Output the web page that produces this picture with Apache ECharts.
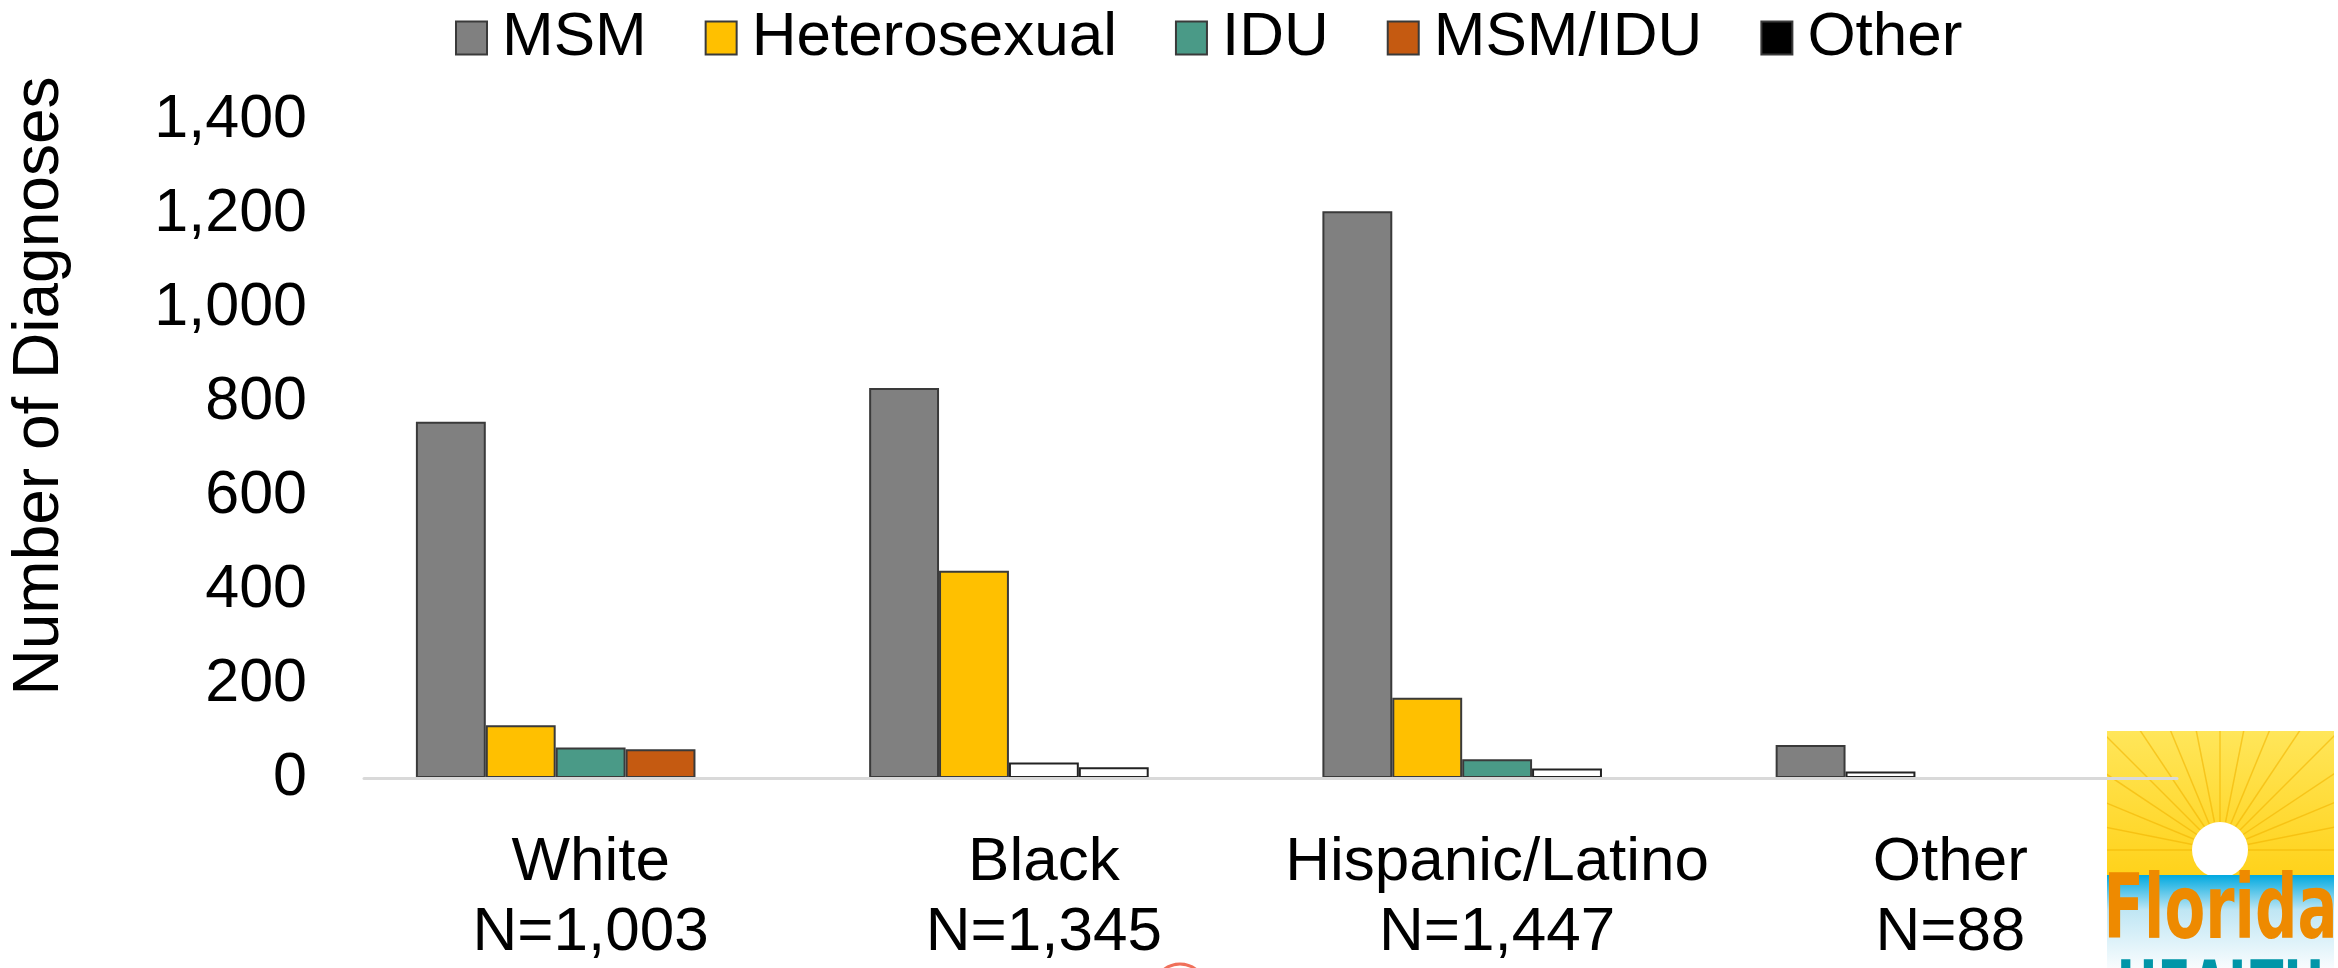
<!DOCTYPE html>
<html>
<head>
<meta charset="utf-8">
<script src="https://cdn.jsdelivr.net/npm/echarts@6/dist/echarts.min.js"></script>
<style>
html,body{margin:0;padding:0;background:#fff;}
#chart{width:2338px;height:968px;}
</style>
</head>
<body>
<div id="chart"></div>
<script>
// ---- data ----
const categories = ['White', 'Black', 'Hispanic/Latino', 'Other'];
const categoryTotals = ['N=1,003', 'N=1,345', 'N=1,447', 'N=88'];
const seriesNames = ['MSM', 'Heterosexual', 'IDU', 'MSM/IDU', 'Other'];
const msmValues = [758, 830, 1206, 70];
const heteroValues = [112, 441, 171, 14];
const iduValues = [65, 33, 40, 0];
const msmIduValues = [61, 23, 20, 0];
const otherValues = [0, 0, 0, 0];
// bars drawn without fill in the reference: [seriesIndex, categoryIndex]
const unfilledBars = [[2, 1], [3, 1], [3, 2], [1, 3]];
const yTicks = [0, 200, 400, 600, 800, 1000, 1200, 1400];

const colors = ['#808080', '#FFC000', '#4A9A87', '#C55A11', '#000000'];
const allValues = [msmValues, heteroValues, iduValues, msmIduValues, otherValues];
const FONT = '"Liberation Sans", Arial, sans-serif';

const chart = echarts.init(document.getElementById('chart'), null, {renderer: 'canvas'});

const series = seriesNames.map((name, si) => ({
  name: name,
  type: 'bar',
  barGap: 0,
  barCategoryGap: '22.9%',
  itemStyle: {color: colors[si], borderColor: '#3a3a3a', borderWidth: 2},
  emphasis: {disabled: true},
  z: 3,
  data: allValues[si].map((v, ci) => {
    const unfilled = unfilledBars.some(p => p[0] === si && p[1] === ci);
    return unfilled ? {value: v, itemStyle: {color: '#ffffff', borderColor: '#222', borderWidth: 2}} : v;
  })
}));

// logo (decoration)
const LX = 2107, LY = 731, LW = 227;
const sunX = 2220, sunY = 850;
const rays = [];
for (let k = 0; k < 17; k++) {
  const a = Math.PI * (1 + k / 16);
  rays.push({
    type: 'line',
    shape: {x1: sunX, y1: sunY, x2: sunX + Math.cos(a) * 260, y2: sunY + Math.sin(a) * 260},
    style: {stroke: '#F2B400', lineWidth: 1.5, opacity: 0.6},
    silent: true
  });
}
const logo = {
  type: 'group',
  silent: true,
  z: 1,
  children: [
    {type: 'rect', shape: {x: LX, y: LY, width: LW, height: 145},
     style: {fill: new echarts.graphic.LinearGradient(0, 0, 0, 1, [{offset: 0, color: '#FFE65A'}, {offset: 1, color: '#FFD21A'}])}},
    {type: 'group', clipPath: {type: 'rect', shape: {x: LX, y: LY, width: LW, height: 145}}, children: rays},
    {type: 'circle', shape: {cx: sunX, cy: sunY, r: 28}, style: {fill: '#ffffff'}},
    {type: 'rect', shape: {x: LX, y: LY + 144, width: LW, height: 100},
     style: {fill: new echarts.graphic.LinearGradient(0, 0, 0, 1, [{offset: 0, color: '#00A9E0'}, {offset: 0.35, color: '#BFE6F4'}, {offset: 1, color: '#ffffff'}])}},
    {type: 'text', x: LX + LW / 2, y: 915, scaleY: 1.35, originX: 0, originY: 0,
     style: {text: 'Florida', font: 'bold 66px "DejaVu Sans Condensed", "Liberation Sans Narrow", sans-serif', fill: '#EE8A00', align: 'center', verticalAlign: 'middle'}},
    {type: 'text', x: LX + LW / 2, y: 957, scaleY: 1.4, originX: 0, originY: 0,
     style: {text: 'HEALTH', font: 'bold 54px "DejaVu Sans Condensed", sans-serif', fill: '#0096A8', align: 'center', verticalAlign: 'top'}}
  ]
};
const mark = {type: 'circle', silent: true, shape: {cx: 1180, cy: 990, r: 26}, style: {fill: 'none', stroke: '#F0705A', lineWidth: 3}};

chart.setOption({
  animation: false,
  backgroundColor: '#ffffff',
  textStyle: {fontFamily: FONT, color: '#000'},
  legend: {
    top: 2,
    left: 450,
    itemWidth: 31,
    itemHeight: 33,
    itemGap: 58,
    icon: 'rect',
    textStyle: {fontSize: 62, fontFamily: FONT, color: '#000', padding: [0, 0, 0, 10]},
    itemStyle: {borderColor: '#3a3a3a', borderWidth: 2},
    data: seriesNames
  },
  grid: {left: 360, right: 161, top: 120, bottom: 183, containLabel: false},
  xAxis: {
    type: 'category',
    data: categories.map((c, i) => c + '\n' + categoryTotals[i]),
    axisLine: {show: true, lineStyle: {color: '#D9D9D9', width: 3}},
    axisTick: {show: false},
    axisLabel: {fontSize: 62, fontFamily: FONT, color: '#000', lineHeight: 70, margin: 50, interval: 0},
    z: 5
  },
  yAxis: {
    type: 'value',
    min: 0,
    max: 1400,
    interval: 200,
    name: 'Number of Diagnoses',
    nameLocation: 'middle',
    nameRotate: 90,
    nameGap: 292,
    nameTextStyle: {fontSize: 64, fontFamily: FONT, color: '#000', padding: [0, 0, 0, 126]},
    axisLine: {show: false},
    axisTick: {show: false},
    splitLine: {show: false},
    axisLabel: {
      fontSize: 61, fontFamily: FONT, color: '#000', margin: 57,
      formatter: v => yTicks.indexOf(v) >= 0 ? v.toLocaleString('en-US') : ''
    }
  },
  graphic: [logo, mark],
  series: series
});
</script>
</body>
</html>
